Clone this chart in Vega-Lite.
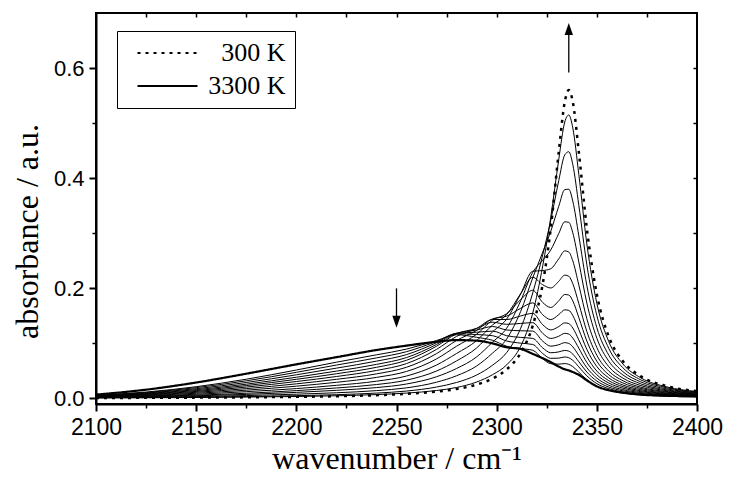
{
"$schema": "https://vega.github.io/schema/vega-lite/v6.json",
"width": 601, "height": 391,
"autosize": {"type": "none"},
"padding": {"left": 96, "top": 13, "right": 32, "bottom": 77},
"background": "white",
"config": {
  "view": {"stroke": "black", "strokeWidth": 2},
  "axis": {"domainColor": "black", "tickColor": "black", "labelColor": "black", "titleColor": "black", "grid": false, "labelFont": "Liberation Sans", "titleFont": "Liberation Serif", "titleFontWeight": "normal"},
  "legend": {"strokeColor": "black", "padding": 9, "symbolType": "M-3,0L3,0", "symbolSize": 400, "symbolStrokeWidth": 2, "symbolStrokeColor": "black", "symbolFillColor": "transparent", "symbolOffset": 28.5, "labelFont": "Liberation Serif", "labelFontSize": 26, "labelColor": "black", "labelAlign": "right", "labelOffset": 105, "rowPadding": 7, "labelLimit": 300, "fillColor": "white"}
},
"datasets": {
"thin": [
{"T":500,"nu":2100,"A":0.0011},{"T":500,"nu":2125,"A":0.0013},{"T":500,"nu":2150,"A":0.0018},{"T":500,"nu":2175,"A":0.0026},{"T":500,"nu":2200,"A":0.0036},{"T":500,"nu":2220,"A":0.0049},{"T":500,"nu":2240,"A":0.0071},{"T":500,"nu":2255,"A":0.0098},{"T":500,"nu":2270,"A":0.0145},{"T":500,"nu":2280,"A":0.02},{"T":500,"nu":2290,"A":0.0299},{"T":500,"nu":2298,"A":0.0433},{"T":500,"nu":2305,"A":0.0611},{"T":500,"nu":2312,"A":0.095},{"T":500,"nu":2318,"A":0.155},{"T":500,"nu":2323,"A":0.241},{"T":500,"nu":2327,"A":0.3288},{"T":500,"nu":2331,"A":0.4343},{"T":500,"nu":2334,"A":0.5021},{"T":500,"nu":2336,"A":0.5148},{"T":500,"nu":2338,"A":0.4914},{"T":500,"nu":2341,"A":0.4069},{"T":500,"nu":2345,"A":0.281},{"T":500,"nu":2350,"A":0.1729},{"T":500,"nu":2356,"A":0.103},{"T":500,"nu":2363,"A":0.0627},{"T":500,"nu":2372,"A":0.0374},{"T":500,"nu":2385,"A":0.021},{"T":500,"nu":2400,"A":0.0127},
{"T":700,"nu":2100,"A":0.0012},{"T":700,"nu":2125,"A":0.0017},{"T":700,"nu":2150,"A":0.0023},{"T":700,"nu":2175,"A":0.0035},{"T":700,"nu":2200,"A":0.0051},{"T":700,"nu":2220,"A":0.0069},{"T":700,"nu":2240,"A":0.0098},{"T":700,"nu":2255,"A":0.0135},{"T":700,"nu":2270,"A":0.0208},{"T":700,"nu":2280,"A":0.0291},{"T":700,"nu":2290,"A":0.0426},{"T":700,"nu":2298,"A":0.0606},{"T":700,"nu":2305,"A":0.0835},{"T":700,"nu":2312,"A":0.1277},{"T":700,"nu":2318,"A":0.1916},{"T":700,"nu":2323,"A":0.2611},{"T":700,"nu":2327,"A":0.3235},{"T":700,"nu":2331,"A":0.3958},{"T":700,"nu":2334,"A":0.4424},{"T":700,"nu":2336,"A":0.4481},{"T":700,"nu":2338,"A":0.4249},{"T":700,"nu":2341,"A":0.3509},{"T":700,"nu":2345,"A":0.2431},{"T":700,"nu":2350,"A":0.1507},{"T":700,"nu":2356,"A":0.0907},{"T":700,"nu":2363,"A":0.0558},{"T":700,"nu":2372,"A":0.0337},{"T":700,"nu":2385,"A":0.0193},{"T":700,"nu":2400,"A":0.0117},
{"T":900,"nu":2100,"A":0.0015},{"T":900,"nu":2125,"A":0.0023},{"T":900,"nu":2150,"A":0.0035},{"T":900,"nu":2175,"A":0.0053},{"T":900,"nu":2200,"A":0.0078},{"T":900,"nu":2220,"A":0.0104},{"T":900,"nu":2240,"A":0.0143},{"T":900,"nu":2255,"A":0.0193},{"T":900,"nu":2270,"A":0.0296},{"T":900,"nu":2280,"A":0.0413},{"T":900,"nu":2290,"A":0.059},{"T":900,"nu":2298,"A":0.0826},{"T":900,"nu":2305,"A":0.1081},{"T":900,"nu":2312,"A":0.1583},{"T":900,"nu":2318,"A":0.2191},{"T":900,"nu":2323,"A":0.2657},{"T":900,"nu":2327,"A":0.3036},{"T":900,"nu":2331,"A":0.3491},{"T":900,"nu":2334,"A":0.3793},{"T":900,"nu":2336,"A":0.38},{"T":900,"nu":2338,"A":0.3584},{"T":900,"nu":2341,"A":0.2954},{"T":900,"nu":2345,"A":0.2054},{"T":900,"nu":2350,"A":0.1286},{"T":900,"nu":2356,"A":0.0784},{"T":900,"nu":2363,"A":0.0488},{"T":900,"nu":2372,"A":0.03},{"T":900,"nu":2385,"A":0.0174},{"T":900,"nu":2400,"A":0.0107},
{"T":1100,"nu":2100,"A":0.0019},{"T":1100,"nu":2125,"A":0.003},{"T":1100,"nu":2150,"A":0.0049},{"T":1100,"nu":2175,"A":0.0074},{"T":1100,"nu":2200,"A":0.0111},{"T":1100,"nu":2220,"A":0.0148},{"T":1100,"nu":2240,"A":0.0198},{"T":1100,"nu":2255,"A":0.0263},{"T":1100,"nu":2270,"A":0.0395},{"T":1100,"nu":2280,"A":0.0545},{"T":1100,"nu":2290,"A":0.0755},{"T":1100,"nu":2298,"A":0.1025},{"T":1100,"nu":2305,"A":0.1277},{"T":1100,"nu":2312,"A":0.1774},{"T":1100,"nu":2318,"A":0.2291},{"T":1100,"nu":2323,"A":0.2512},{"T":1100,"nu":2327,"A":0.2697},{"T":1100,"nu":2331,"A":0.2997},{"T":1100,"nu":2334,"A":0.3208},{"T":1100,"nu":2336,"A":0.32},{"T":1100,"nu":2338,"A":0.3009},{"T":1100,"nu":2341,"A":0.2481},{"T":1100,"nu":2345,"A":0.1735},{"T":1100,"nu":2350,"A":0.1096},{"T":1100,"nu":2356,"A":0.0675},{"T":1100,"nu":2363,"A":0.0428},{"T":1100,"nu":2372,"A":0.0265},{"T":1100,"nu":2385,"A":0.0156},{"T":1100,"nu":2400,"A":0.0099},
{"T":1300,"nu":2100,"A":0.0023},{"T":1300,"nu":2125,"A":0.0039},{"T":1300,"nu":2150,"A":0.0061},{"T":1300,"nu":2175,"A":0.0095},{"T":1300,"nu":2200,"A":0.0143},{"T":1300,"nu":2220,"A":0.0191},{"T":1300,"nu":2240,"A":0.0253},{"T":1300,"nu":2255,"A":0.0333},{"T":1300,"nu":2270,"A":0.0499},{"T":1300,"nu":2280,"A":0.0683},{"T":1300,"nu":2290,"A":0.0918},{"T":1300,"nu":2298,"A":0.1212},{"T":1300,"nu":2305,"A":0.1443},{"T":1300,"nu":2312,"A":0.1901},{"T":1300,"nu":2318,"A":0.2311},{"T":1300,"nu":2323,"A":0.2323},{"T":1300,"nu":2327,"A":0.2356},{"T":1300,"nu":2331,"A":0.2537},{"T":1300,"nu":2334,"A":0.2681},{"T":1300,"nu":2336,"A":0.266},{"T":1300,"nu":2338,"A":0.2499},{"T":1300,"nu":2341,"A":0.2062},{"T":1300,"nu":2345,"A":0.1449},{"T":1300,"nu":2350,"A":0.0925},{"T":1300,"nu":2356,"A":0.0577},{"T":1300,"nu":2363,"A":0.037},{"T":1300,"nu":2372,"A":0.0234},{"T":1300,"nu":2385,"A":0.0141},{"T":1300,"nu":2400,"A":0.0091},
{"T":1500,"nu":2100,"A":0.0026},{"T":1500,"nu":2125,"A":0.0045},{"T":1500,"nu":2150,"A":0.0077},{"T":1500,"nu":2175,"A":0.0124},{"T":1500,"nu":2200,"A":0.018},{"T":1500,"nu":2220,"A":0.0239},{"T":1500,"nu":2240,"A":0.0314},{"T":1500,"nu":2255,"A":0.0408},{"T":1500,"nu":2270,"A":0.0608},{"T":1500,"nu":2280,"A":0.0818},{"T":1500,"nu":2290,"A":0.105},{"T":1500,"nu":2298,"A":0.1337},{"T":1500,"nu":2305,"A":0.1524},{"T":1500,"nu":2312,"A":0.1904},{"T":1500,"nu":2318,"A":0.2201},{"T":1500,"nu":2323,"A":0.2065},{"T":1500,"nu":2327,"A":0.2007},{"T":1500,"nu":2331,"A":0.2128},{"T":1500,"nu":2334,"A":0.224},{"T":1500,"nu":2336,"A":0.222},{"T":1500,"nu":2338,"A":0.2085},{"T":1500,"nu":2341,"A":0.1725},{"T":1500,"nu":2345,"A":0.1219},{"T":1500,"nu":2350,"A":0.0785},{"T":1500,"nu":2356,"A":0.0496},{"T":1500,"nu":2363,"A":0.0323},{"T":1500,"nu":2372,"A":0.0205},{"T":1500,"nu":2385,"A":0.0125},{"T":1500,"nu":2400,"A":0.008},
{"T":1700,"nu":2100,"A":0.0032},{"T":1700,"nu":2125,"A":0.0055},{"T":1700,"nu":2150,"A":0.0095},{"T":1700,"nu":2175,"A":0.0151},{"T":1700,"nu":2200,"A":0.0224},{"T":1700,"nu":2220,"A":0.0294},{"T":1700,"nu":2240,"A":0.0383},{"T":1700,"nu":2255,"A":0.0491},{"T":1700,"nu":2270,"A":0.0719},{"T":1700,"nu":2280,"A":0.095},{"T":1700,"nu":2290,"A":0.1167},{"T":1700,"nu":2298,"A":0.1424},{"T":1700,"nu":2305,"A":0.154},{"T":1700,"nu":2312,"A":0.1796},{"T":1700,"nu":2318,"A":0.1966},{"T":1700,"nu":2323,"A":0.1742},{"T":1700,"nu":2327,"A":0.1653},{"T":1700,"nu":2331,"A":0.1774},{"T":1700,"nu":2334,"A":0.1888},{"T":1700,"nu":2336,"A":0.1879},{"T":1700,"nu":2338,"A":0.1772},{"T":1700,"nu":2341,"A":0.147},{"T":1700,"nu":2345,"A":0.1044},{"T":1700,"nu":2350,"A":0.0676},{"T":1700,"nu":2356,"A":0.043},{"T":1700,"nu":2363,"A":0.0282},{"T":1700,"nu":2372,"A":0.0182},{"T":1700,"nu":2385,"A":0.0113},{"T":1700,"nu":2400,"A":0.0073},
{"T":1900,"nu":2100,"A":0.0034},{"T":1900,"nu":2125,"A":0.0064},{"T":1900,"nu":2150,"A":0.0112},{"T":1900,"nu":2175,"A":0.0179},{"T":1900,"nu":2200,"A":0.0266},{"T":1900,"nu":2220,"A":0.0348},{"T":1900,"nu":2240,"A":0.0447},{"T":1900,"nu":2255,"A":0.0567},{"T":1900,"nu":2270,"A":0.0815},{"T":1900,"nu":2280,"A":0.1054},{"T":1900,"nu":2290,"A":0.1236},{"T":1900,"nu":2298,"A":0.1447},{"T":1900,"nu":2305,"A":0.1495},{"T":1900,"nu":2312,"A":0.1638},{"T":1900,"nu":2318,"A":0.1736},{"T":1900,"nu":2323,"A":0.152},{"T":1900,"nu":2327,"A":0.1433},{"T":1900,"nu":2331,"A":0.1523},{"T":1900,"nu":2334,"A":0.161},{"T":1900,"nu":2336,"A":0.16},{"T":1900,"nu":2338,"A":0.1507},{"T":1900,"nu":2341,"A":0.1252},{"T":1900,"nu":2345,"A":0.0892},{"T":1900,"nu":2350,"A":0.058},{"T":1900,"nu":2356,"A":0.0373},{"T":1900,"nu":2363,"A":0.0245},{"T":1900,"nu":2372,"A":0.016},{"T":1900,"nu":2385,"A":0.0099},{"T":1900,"nu":2400,"A":0.0065},
{"T":2100,"nu":2100,"A":0.004},{"T":2100,"nu":2125,"A":0.0073},{"T":2100,"nu":2150,"A":0.0128},{"T":2100,"nu":2175,"A":0.0207},{"T":2100,"nu":2200,"A":0.0308},{"T":2100,"nu":2220,"A":0.0399},{"T":2100,"nu":2240,"A":0.0509},{"T":2100,"nu":2255,"A":0.0634},{"T":2100,"nu":2270,"A":0.0892},{"T":2100,"nu":2280,"A":0.1128},{"T":2100,"nu":2290,"A":0.1273},{"T":2100,"nu":2298,"A":0.1435},{"T":2100,"nu":2305,"A":0.1434},{"T":2100,"nu":2312,"A":0.1499},{"T":2100,"nu":2318,"A":0.1546},{"T":2100,"nu":2323,"A":0.1339},{"T":2100,"nu":2327,"A":0.1245},{"T":2100,"nu":2331,"A":0.1306},{"T":2100,"nu":2334,"A":0.1373},{"T":2100,"nu":2336,"A":0.136},{"T":2100,"nu":2338,"A":0.128},{"T":2100,"nu":2341,"A":0.1064},{"T":2100,"nu":2345,"A":0.0761},{"T":2100,"nu":2350,"A":0.0498},{"T":2100,"nu":2356,"A":0.0323},{"T":2100,"nu":2363,"A":0.0215},{"T":2100,"nu":2372,"A":0.0141},{"T":2100,"nu":2385,"A":0.0089},{"T":2100,"nu":2400,"A":0.0058},
{"T":2300,"nu":2100,"A":0.0045},{"T":2300,"nu":2125,"A":0.0082},{"T":2300,"nu":2150,"A":0.0144},{"T":2300,"nu":2175,"A":0.0234},{"T":2300,"nu":2200,"A":0.0348},{"T":2300,"nu":2220,"A":0.0449},{"T":2300,"nu":2240,"A":0.0566},{"T":2300,"nu":2255,"A":0.0694},{"T":2300,"nu":2270,"A":0.095},{"T":2300,"nu":2280,"A":0.1174},{"T":2300,"nu":2290,"A":0.1273},{"T":2300,"nu":2298,"A":0.1385},{"T":2300,"nu":2305,"A":0.1347},{"T":2300,"nu":2312,"A":0.1363},{"T":2300,"nu":2318,"A":0.1377},{"T":2300,"nu":2323,"A":0.1183},{"T":2300,"nu":2327,"A":0.109},{"T":2300,"nu":2331,"A":0.1131},{"T":2300,"nu":2334,"A":0.1183},{"T":2300,"nu":2336,"A":0.117},{"T":2300,"nu":2338,"A":0.1098},{"T":2300,"nu":2341,"A":0.0913},{"T":2300,"nu":2345,"A":0.0655},{"T":2300,"nu":2350,"A":0.0431},{"T":2300,"nu":2356,"A":0.028},{"T":2300,"nu":2363,"A":0.0187},{"T":2300,"nu":2372,"A":0.0124},{"T":2300,"nu":2385,"A":0.0079},{"T":2300,"nu":2400,"A":0.0052},
{"T":2500,"nu":2100,"A":0.0046},{"T":2500,"nu":2125,"A":0.009},{"T":2500,"nu":2150,"A":0.016},{"T":2500,"nu":2175,"A":0.026},{"T":2500,"nu":2200,"A":0.0386},{"T":2500,"nu":2220,"A":0.0497},{"T":2500,"nu":2240,"A":0.0619},{"T":2500,"nu":2255,"A":0.0743},{"T":2500,"nu":2270,"A":0.0982},{"T":2500,"nu":2280,"A":0.1185},{"T":2500,"nu":2290,"A":0.1243},{"T":2500,"nu":2298,"A":0.1307},{"T":2500,"nu":2305,"A":0.1244},{"T":2500,"nu":2312,"A":0.123},{"T":2500,"nu":2318,"A":0.1224},{"T":2500,"nu":2323,"A":0.104},{"T":2500,"nu":2327,"A":0.095},{"T":2500,"nu":2331,"A":0.0976},{"T":2500,"nu":2334,"A":0.1014},{"T":2500,"nu":2336,"A":0.1},{"T":2500,"nu":2338,"A":0.0939},{"T":2500,"nu":2341,"A":0.0781},{"T":2500,"nu":2345,"A":0.056},{"T":2500,"nu":2350,"A":0.037},{"T":2500,"nu":2356,"A":0.0241},{"T":2500,"nu":2363,"A":0.0161},{"T":2500,"nu":2372,"A":0.0107},{"T":2500,"nu":2385,"A":0.0068},{"T":2500,"nu":2400,"A":0.0045},
{"T":2700,"nu":2100,"A":0.005},{"T":2700,"nu":2125,"A":0.0099},{"T":2700,"nu":2150,"A":0.0178},{"T":2700,"nu":2175,"A":0.029},{"T":2700,"nu":2200,"A":0.043},{"T":2700,"nu":2220,"A":0.0551},{"T":2700,"nu":2240,"A":0.0678},{"T":2700,"nu":2255,"A":0.0797},{"T":2700,"nu":2270,"A":0.1013},{"T":2700,"nu":2280,"A":0.1185},{"T":2700,"nu":2290,"A":0.1203},{"T":2700,"nu":2298,"A":0.1223},{"T":2700,"nu":2305,"A":0.114},{"T":2700,"nu":2312,"A":0.1109},{"T":2700,"nu":2318,"A":0.1091},{"T":2700,"nu":2323,"A":0.0918},{"T":2700,"nu":2327,"A":0.0831},{"T":2700,"nu":2331,"A":0.0846},{"T":2700,"nu":2334,"A":0.0873},{"T":2700,"nu":2336,"A":0.086},{"T":2700,"nu":2338,"A":0.0806},{"T":2700,"nu":2341,"A":0.0669},{"T":2700,"nu":2345,"A":0.0481},{"T":2700,"nu":2350,"A":0.0317},{"T":2700,"nu":2356,"A":0.0207},{"T":2700,"nu":2363,"A":0.0139},{"T":2700,"nu":2372,"A":0.0092},{"T":2700,"nu":2385,"A":0.006},{"T":2700,"nu":2400,"A":0.004},
{"T":2900,"nu":2100,"A":0.0055},{"T":2900,"nu":2125,"A":0.0108},{"T":2900,"nu":2150,"A":0.0197},{"T":2900,"nu":2175,"A":0.0321},{"T":2900,"nu":2200,"A":0.0475},{"T":2900,"nu":2220,"A":0.0607},{"T":2900,"nu":2240,"A":0.0737},{"T":2900,"nu":2255,"A":0.085},{"T":2900,"nu":2270,"A":0.1036},{"T":2900,"nu":2280,"A":0.1176},{"T":2900,"nu":2290,"A":0.1161},{"T":2900,"nu":2298,"A":0.114},{"T":2900,"nu":2305,"A":0.1044},{"T":2900,"nu":2312,"A":0.1005},{"T":2900,"nu":2318,"A":0.0981},{"T":2900,"nu":2323,"A":0.0816},{"T":2900,"nu":2327,"A":0.0729},{"T":2900,"nu":2331,"A":0.0733},{"T":2900,"nu":2334,"A":0.0754},{"T":2900,"nu":2336,"A":0.074},{"T":2900,"nu":2338,"A":0.0693},{"T":2900,"nu":2341,"A":0.0574},{"T":2900,"nu":2345,"A":0.0412},{"T":2900,"nu":2350,"A":0.027},{"T":2900,"nu":2356,"A":0.0178},{"T":2900,"nu":2363,"A":0.0119},{"T":2900,"nu":2372,"A":0.0079},{"T":2900,"nu":2385,"A":0.005},{"T":2900,"nu":2400,"A":0.0034},
{"T":3100,"nu":2100,"A":0.0059},{"T":3100,"nu":2125,"A":0.0117},{"T":3100,"nu":2150,"A":0.0214},{"T":3100,"nu":2175,"A":0.035},{"T":3100,"nu":2200,"A":0.0517},{"T":3100,"nu":2220,"A":0.0659},{"T":3100,"nu":2240,"A":0.0793},{"T":3100,"nu":2255,"A":0.0897},{"T":3100,"nu":2270,"A":0.1052},{"T":3100,"nu":2280,"A":0.1158},{"T":3100,"nu":2290,"A":0.1111},{"T":3100,"nu":2298,"A":0.1056},{"T":3100,"nu":2305,"A":0.0949},{"T":3100,"nu":2312,"A":0.0906},{"T":3100,"nu":2318,"A":0.0876},{"T":3100,"nu":2323,"A":0.072},{"T":3100,"nu":2327,"A":0.0632},{"T":3100,"nu":2331,"A":0.0624},{"T":3100,"nu":2334,"A":0.0634},{"T":3100,"nu":2336,"A":0.062},{"T":3100,"nu":2338,"A":0.0579},{"T":3100,"nu":2341,"A":0.0478},{"T":3100,"nu":2345,"A":0.0343},{"T":3100,"nu":2350,"A":0.0225},{"T":3100,"nu":2356,"A":0.0148},{"T":3100,"nu":2363,"A":0.0098},{"T":3100,"nu":2372,"A":0.0066},{"T":3100,"nu":2385,"A":0.0041},{"T":3100,"nu":2400,"A":0.0027}
],
"ends": [
{"label":"300 K","nu":2100,"A":0.001},{"label":"300 K","nu":2125,"A":0.0012},{"label":"300 K","nu":2150,"A":0.0016},{"label":"300 K","nu":2175,"A":0.0021},{"label":"300 K","nu":2200,"A":0.003},{"label":"300 K","nu":2220,"A":0.0041},{"label":"300 K","nu":2240,"A":0.006},{"label":"300 K","nu":2255,"A":0.0084},{"label":"300 K","nu":2270,"A":0.0125},{"label":"300 K","nu":2280,"A":0.0173},{"label":"300 K","nu":2290,"A":0.0253},{"label":"300 K","nu":2298,"A":0.0363},{"label":"300 K","nu":2305,"A":0.0528},{"label":"300 K","nu":2312,"A":0.0829},{"label":"300 K","nu":2318,"A":0.1322},{"label":"300 K","nu":2323,"A":0.2083},{"label":"300 K","nu":2327,"A":0.3091},{"label":"300 K","nu":2331,"A":0.448},{"label":"300 K","nu":2334,"A":0.5387},{"label":"300 K","nu":2336,"A":0.56},{"label":"300 K","nu":2338,"A":0.5387},{"label":"300 K","nu":2341,"A":0.448},{"label":"300 K","nu":2345,"A":0.3091},{"label":"300 K","nu":2350,"A":0.1893},{"label":"300 K","nu":2356,"A":0.112},{"label":"300 K","nu":2363,"A":0.0678},{"label":"300 K","nu":2372,"A":0.0401},{"label":"300 K","nu":2385,"A":0.0224},{"label":"300 K","nu":2400,"A":0.0133},
{"label":"3300 K","nu":2100,"A":0.007},{"label":"3300 K","nu":2125,"A":0.016},{"label":"3300 K","nu":2150,"A":0.029},{"label":"3300 K","nu":2175,"A":0.045},{"label":"3300 K","nu":2200,"A":0.062},{"label":"3300 K","nu":2220,"A":0.075},{"label":"3300 K","nu":2240,"A":0.088},{"label":"3300 K","nu":2255,"A":0.096},{"label":"3300 K","nu":2270,"A":0.103},{"label":"3300 K","nu":2280,"A":0.106},{"label":"3300 K","nu":2290,"A":0.105},{"label":"3300 K","nu":2298,"A":0.1},{"label":"3300 K","nu":2305,"A":0.093},{"label":"3300 K","nu":2312,"A":0.09},{"label":"3300 K","nu":2318,"A":0.081},{"label":"3300 K","nu":2323,"A":0.073},{"label":"3300 K","nu":2327,"A":0.066},{"label":"3300 K","nu":2331,"A":0.058},{"label":"3300 K","nu":2334,"A":0.053},{"label":"3300 K","nu":2336,"A":0.051},{"label":"3300 K","nu":2338,"A":0.048},{"label":"3300 K","nu":2341,"A":0.043},{"label":"3300 K","nu":2345,"A":0.033},{"label":"3300 K","nu":2350,"A":0.022},{"label":"3300 K","nu":2356,"A":0.015},{"label":"3300 K","nu":2363,"A":0.0105},{"label":"3300 K","nu":2372,"A":0.007},{"label":"3300 K","nu":2385,"A":0.005},{"label":"3300 K","nu":2400,"A":0.004}
],
"arrows": [{"nu":2336,"y1":0.592,"y2":0.662},{"nu":2250,"y1":0.2,"y2":0.146}],
"heads": [{"nu":2336,"y":0.671,"dir":"up"},{"nu":2250,"y":0.1395,"dir":"down"}]
},
"layer": [
{"data": {"name": "thin"},
 "mark": {"type": "line", "interpolate": "monotone", "stroke": "black", "strokeWidth": 1},
 "encoding": {
  "x": {"field": "nu", "type": "quantitative", "scale": {"domain": [2100, 2400], "nice": false, "zero": false},
        "axis": {"orient": "bottom", "values": [2100,2150,2200,2250,2300,2350,2400], "format": "d", "labelFontSize": 23, "labelPadding": 5, "tickSize": 7, "tickWidth": 2, "domainWidth": 2, "labelFlush": false, "labelOverlap": false, "title": "wavenumber / cm⁻¹", "titleFontSize": 32, "titleY": 64, "titleBaseline": "alphabetic", "zindex": 1}},
  "y": {"field": "A", "type": "quantitative", "scale": {"domain": [-0.01, 0.7], "nice": false, "zero": false},
        "axis": {"orient": "left", "values": [0, 0.2, 0.4, 0.6], "format": ".1f", "labelFontSize": 22, "labelPadding": 5, "tickSize": 7, "tickWidth": 2, "domainWidth": 2, "labelFlush": false, "labelOverlap": false, "title": "absorbance / a.u.", "titleFontSize": 32, "titleAngle": 270, "titleX": -59, "titleY": 218, "titleBaseline": "alphabetic", "titleAlign": "center", "zindex": 1}},
  "detail": {"field": "T", "type": "nominal"}
 }},
{"data": {"name": "ends"},
 "transform": [{"filter": "datum.label === '300 K'"}],
 "mark": {"type": "line", "interpolate": "monotone", "stroke": "black", "strokeWidth": 2.5, "strokeCap": "butt"},
 "encoding": {
  "x": {"field": "nu", "type": "quantitative", "axis": {"orient": "bottom", "values": [2125,2175,2225,2275,2325,2375], "labels": false, "tickSize": 4, "tickWidth": 1.5, "domain": false, "title": null, "zindex": 1}},
  "y": {"field": "A", "type": "quantitative", "axis": {"orient": "left", "values": [0.1, 0.3, 0.5], "labels": false, "tickSize": 4, "tickWidth": 1.5, "domain": false, "title": null, "zindex": 1}},
  "strokeDash": {"field": "label", "type": "nominal", "scale": {"domain": ["300 K", "3300 K"], "range": [[3, 5], [1, 0]]}, "legend": {"title": null, "orient": "none", "legendX": 21, "legendY": 18, "direction": "vertical"}}
 }},
{"data": {"name": "ends"},
 "transform": [{"filter": "datum.label === '3300 K'"}],
 "mark": {"type": "line", "interpolate": "monotone", "stroke": "black", "strokeWidth": 2.2},
 "encoding": {
  "x": {"field": "nu", "type": "quantitative", "axis": null},
  "y": {"field": "A", "type": "quantitative", "axis": null},
  "strokeDash": {"field": "label", "type": "nominal", "scale": {"domain": ["300 K", "3300 K"], "range": [[3, 5], [1, 0]]}, "legend": {"title": null, "orient": "none", "legendX": 21, "legendY": 18, "direction": "vertical"}}
 }},
{"data": {"name": "arrows"},
 "mark": {"type": "rule", "stroke": "black", "strokeWidth": 1.3},
 "encoding": {
  "x": {"field": "nu", "type": "quantitative", "axis": {"orient": "top", "values": [2125,2150,2175,2200,2225,2250,2275,2300,2325,2350,2375], "labels": false, "tickSize": -4, "tickWidth": 1.5, "domain": false, "title": null}},
  "y": {"field": "y1", "type": "quantitative", "axis": {"orient": "right", "values": [0.1,0.2,0.3,0.4,0.5,0.6], "labels": false, "tickSize": -4, "tickWidth": 1.5, "domain": false, "title": null}},
  "y2": {"field": "y2"}
 }},
{"data": {"name": "heads"},
 "mark": {"type": "point", "filled": true, "fill": "black", "strokeWidth": 0, "size": 144, "opacity": 1},
 "encoding": {
  "x": {"field": "nu", "type": "quantitative", "axis": null},
  "y": {"field": "y", "type": "quantitative", "axis": null},
  "shape": {"field": "dir", "type": "nominal", "scale": {"domain": ["up", "down"], "range": ["M0,-1L0.7,1L-0.7,1Z", "M-0.7,-1L0.7,-1L0,1Z"]}, "legend": null}
 }}
],
"resolve": {"axis": {"x": "independent", "y": "independent"}}
}
